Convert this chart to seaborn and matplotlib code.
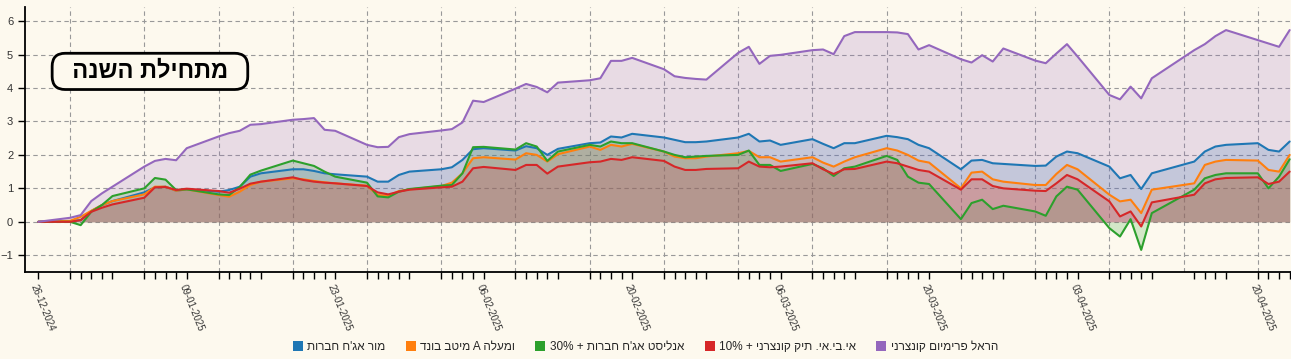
import re
import pandas as pd
import matplotlib
matplotlib.use('Agg')
import matplotlib.pyplot as plt
import matplotlib.dates as mdates
from matplotlib.patches import Patch
from matplotlib.ticker import FixedLocator
import seaborn as sns

# תאריכי המסחר
dates = ['26-12-2024', '29-12-2024', '30-12-2024', '31-12-2024', '01-01-2025', '02-01-2025',
         '05-01-2025', '06-01-2025', '07-01-2025', '08-01-2025', '09-01-2025',
         '12-01-2025', '13-01-2025', '14-01-2025', '15-01-2025', '16-01-2025',
         '19-01-2025', '20-01-2025', '21-01-2025', '22-01-2025', '23-01-2025',
         '26-01-2025', '27-01-2025', '28-01-2025', '29-01-2025', '30-01-2025',
         '02-02-2025', '03-02-2025', '04-02-2025', '05-02-2025', '06-02-2025',
         '09-02-2025', '10-02-2025', '11-02-2025', '12-02-2025', '13-02-2025',
         '16-02-2025', '17-02-2025', '18-02-2025', '19-02-2025', '20-02-2025',
         '23-02-2025', '24-02-2025', '25-02-2025', '26-02-2025', '27-02-2025',
         '02-03-2025', '03-03-2025', '04-03-2025', '05-03-2025', '06-03-2025',
         '09-03-2025', '10-03-2025', '11-03-2025', '12-03-2025', '13-03-2025',
         '16-03-2025', '17-03-2025', '18-03-2025', '19-03-2025', '20-03-2025',
         '23-03-2025', '24-03-2025', '25-03-2025', '26-03-2025', '27-03-2025',
         '30-03-2025', '31-03-2025', '01-04-2025', '02-04-2025', '03-04-2025',
         '06-04-2025', '07-04-2025', '08-04-2025', '09-04-2025', '10-04-2025',
         '14-04-2025', '15-04-2025', '16-04-2025', '17-04-2025',
         '20-04-2025', '21-04-2025', '22-04-2025', '23-04-2025']

# תשואה מצטברת באחוזים
mor = [0, 0.02, 0.05, 0.32, 0.5, 0.62, 0.88, 1.03, 1.05, 0.93, 0.97,
       0.9, 0.95, 1.05, 1.35, 1.45, 1.57, 1.57, 1.52, 1.45, 1.42,
       1.35, 1.2, 1.2, 1.4, 1.5, 1.57, 1.63, 1.85, 2.17, 2.2,
       2.13, 2.26, 2.2, 2.0, 2.18, 2.35, 2.37, 2.55, 2.52, 2.63,
       2.52, 2.45, 2.38, 2.38, 2.4, 2.52, 2.63, 2.4, 2.43, 2.3,
       2.47, 2.33, 2.2, 2.35, 2.35, 2.57, 2.53, 2.47, 2.3, 2.2,
       1.57, 1.83, 1.85, 1.75, 1.73, 1.67, 1.68, 1.95, 2.1, 2.05,
       1.65, 1.3, 1.4, 0.98, 1.45, 1.8, 2.1, 2.25, 2.3, 2.35, 2.15, 2.1, 2.4]
meitav = [0, 0.03, 0.15, 0.33, 0.5, 0.62, 0.82, 1.05, 1.05, 0.93, 0.97,
          0.8, 0.75, 0.9, 1.1, 1.2, 1.3, 1.27, 1.22, 1.18, 1.15,
          1.08, 0.8, 0.78, 0.92, 0.97, 1.07, 1.17, 1.45, 1.9, 1.93,
          1.86, 2.05, 2.0, 1.8, 2.02, 2.25, 2.15, 2.3, 2.25, 2.33,
          2.1, 1.95, 1.9, 1.9, 1.95, 2.05, 2.12, 1.93, 1.93, 1.8,
          1.93, 1.77, 1.65, 1.8, 1.93, 2.2, 2.13, 2.0, 1.83, 1.77,
          1.0, 1.47, 1.5, 1.27, 1.2, 1.1, 1.1, 1.43, 1.7, 1.57,
          0.81, 0.61, 0.66, 0.26, 0.96, 1.15, 1.7, 1.8, 1.85, 1.83, 1.55, 1.5, 2.0]
analyst = [0, 0.0, -0.1, 0.3, 0.5, 0.77, 1.0, 1.31, 1.26, 0.95, 0.97,
           0.82, 0.8, 1.04, 1.41, 1.53, 1.83, 1.75, 1.67, 1.5, 1.35,
           1.17, 0.76, 0.73, 0.9, 0.98, 1.08, 1.1, 1.45, 2.23, 2.24,
           2.16, 2.35, 2.25, 1.82, 2.1, 2.3, 2.25, 2.4, 2.35, 2.35,
           2.1, 2.0, 1.93, 1.95, 1.97, 2.0, 2.13, 1.7, 1.7, 1.52,
           1.73, 1.6, 1.37, 1.6, 1.65, 1.97, 1.85, 1.35, 1.17, 1.13,
           0.08, 0.56, 0.66, 0.38, 0.48, 0.31, 0.18, 0.76, 1.05, 0.96,
           -0.19, -0.44, 0.08, -0.84, 0.26, 0.96, 1.3, 1.4, 1.45, 1.45, 1.0, 1.35, 1.87]
ibi = [0, 0.0, 0.05, 0.3, 0.42, 0.52, 0.72, 1.03, 1.04, 0.95, 0.99,
       0.92, 0.87, 0.99, 1.14, 1.2, 1.33, 1.25, 1.2, 1.17, 1.15,
       1.07, 0.88, 0.82, 0.9, 0.96, 1.03, 1.05, 1.2, 1.6, 1.64,
       1.55, 1.7, 1.7, 1.44, 1.65, 1.78, 1.8, 1.88, 1.85, 1.93,
       1.82, 1.65, 1.55, 1.55, 1.58, 1.6, 1.8, 1.65, 1.63, 1.65,
       1.75, 1.57, 1.43, 1.57, 1.58, 1.8, 1.75, 1.65, 1.55, 1.5,
       0.96, 1.27, 1.27, 1.07, 1.0, 0.93, 0.92, 1.15, 1.4, 1.27,
       0.61, 0.16, 0.31, -0.14, 0.58, 0.81, 1.15, 1.27, 1.31, 1.33, 1.13, 1.2, 1.5]
harel = [0, 0.12, 0.2, 0.62, 0.85, 1.05, 1.65, 1.82, 1.88, 1.84, 2.2,
         2.55, 2.65, 2.72, 2.9, 2.92, 3.05, 3.07, 3.1, 2.75, 2.72,
         2.3, 2.23, 2.24, 2.53, 2.62, 2.73, 2.77, 2.97, 3.62, 3.58,
         3.98, 4.12, 4.03, 3.87, 4.16, 4.23, 4.29, 4.81, 4.81, 4.9,
         4.56, 4.35, 4.3, 4.27, 4.25, 5.05, 5.23, 4.72, 4.96, 4.99,
         5.13, 5.15, 5.01, 5.55, 5.67, 5.67, 5.66, 5.61, 5.15, 5.28,
         4.86, 4.76, 4.98, 4.79, 5.18, 4.82, 4.74, 5.03, 5.31, 4.94,
         3.79, 3.66, 4.04, 3.69, 4.29, 5.13, 5.31, 5.55, 5.73, 5.43, 5.33, 5.23, 5.73]

funds = ["מור אג'ח חברות", "ומעלה A מיטב בונד", "אנליסט אג'ח חברות + 30%",
         "אי.בי.אי. תיק קונצרני + 10%", "הראל פרימיום קונצרני"]
colors = ['#1f77b4', '#ff7f0e', '#2ca02c', '#d62728', '#9467bd']
title = 'מתחילת השנה'


def heb(s):
    # matplotlib לא הופך טקסט מימין לשמאל
    tokens = re.findall(r'[A-Za-z0-9%]+|[^A-Za-z0-9%]', s)
    return ''.join(reversed(tokens))


bg = '#fdf9ee'
sns.set_theme(style='ticks')
plt.rcParams['font.family'] = ['Liberation Sans', 'DejaVu Sans']

d = pd.to_datetime(dates, format='%d-%m-%Y')
series = [mor, meitav, analyst, ibi, harel]
df = pd.DataFrame({'date': list(d) * 5,
                   'fund': [f for f in funds for _ in d],
                   'value': [v for s in series for v in s]})

fig = plt.figure(figsize=(12.91, 3.59), dpi=100)
fig.patch.set_facecolor(bg)
ax = fig.add_axes([25 / 1291, 87 / 359, 1266 / 1291, 265 / 359])
ax.set_facecolor(bg)

for s, c in zip(series, colors):
    ax.fill_between(d, 0, s, color=c, alpha=0.2, lw=0, zorder=2)

sns.lineplot(data=df, x='date', y='value', hue='fund', hue_order=funds,
             palette=dict(zip(funds, colors)), linewidth=1.5, ax=ax,
             legend=False, zorder=3)

ax.set_xlim(d[0] - pd.Timedelta(hours=30), d[-1] + pd.Timedelta(hours=3))
ax.set_ylim(-1.5, 6.42)
ax.set_yticks(range(-1, 7))
ax.set_xticks(d)
ax.set_xticklabels([x.strftime('%d-%m-%Y') if i % 10 == 0 else '' for i, x in enumerate(d)],
                   rotation=-68, ha='left', rotation_mode='anchor', fontsize=7, color='#333333')
sundays = pd.date_range('2024-12-29', '2025-04-20', freq='W-SUN')
ax.xaxis.remove_overlapping_locs = False
ax.xaxis.set_minor_locator(FixedLocator(mdates.date2num(sundays)))
ax.tick_params(axis='x', which='minor', length=0)
ax.tick_params(axis='x', which='major', length=5, width=1, color='black', pad=3)
ax.tick_params(axis='y', length=5, width=1, color='black', labelsize=8, labelcolor='#333333')
ax.grid(which='minor', axis='x', color='#999999', linestyle=(0, (4, 3)), lw=0.8)
ax.grid(which='major', axis='y', color='#999999', linestyle=(0, (4, 3)), lw=0.8)
ax.grid(which='major', axis='x', visible=False)
ax.set_axisbelow(True)
ax.set_xlabel('')
ax.set_ylabel('')
for side in ['top', 'right']:
    ax.spines[side].set_visible(False)
for side in ['left', 'bottom']:
    ax.spines[side].set_color('black')
    ax.spines[side].set_linewidth(1.3)

ax.text(0.0987, 0.757, '  ' + heb(title) + '  ', transform=ax.transAxes, ha='center', va='center',
        fontsize=17, fontweight='bold', color='black', zorder=5,
        bbox=dict(boxstyle='round,pad=0.28,rounding_size=0.55', fc=bg, ec='black', lw=2))

handles = [Patch(facecolor=c, edgecolor='none') for c in colors]
fig.legend(handles, [heb(f) for f in funds], loc='center', bbox_to_anchor=(0.5, 12 / 359),
           ncol=5, frameon=False, fontsize=8.5, handlelength=0.85, handleheight=0.85,
           handletextpad=0.4, columnspacing=1.7)

fig.savefig('out.png', dpi=100, facecolor=bg)
